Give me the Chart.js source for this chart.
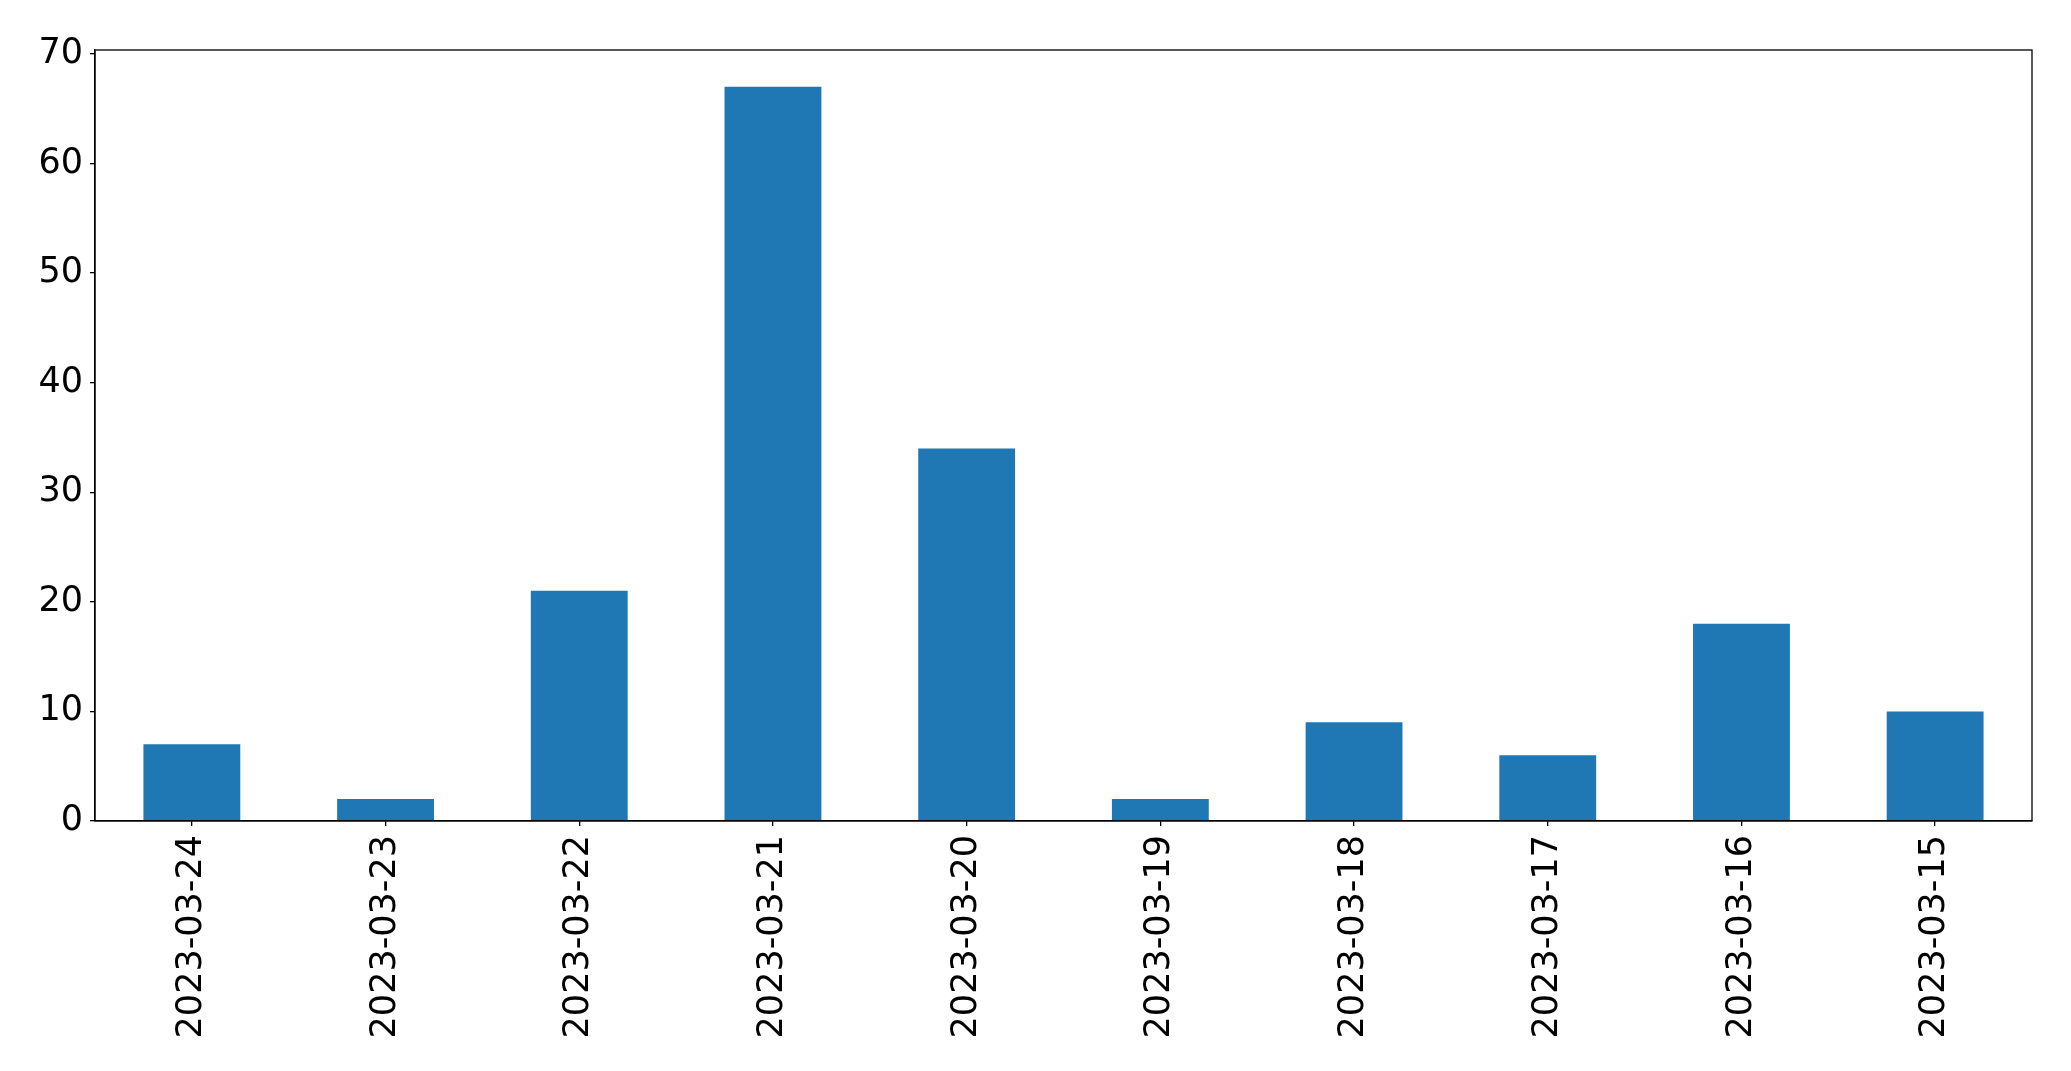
<!DOCTYPE html>
<html>
<head>
<meta charset="utf-8">
<script src="https://cdn.jsdelivr.net/npm/chart.js@4/dist/chart.umd.min.js"></script>
<style>
  html, body { margin: 0; padding: 0; background: white; }
  #wrap { width: 2071px; height: 1071px; }
</style>
</head>
<body>
<div id="wrap"><canvas id="barChart" width="2071" height="1071"></canvas></div>
<script>
// données
const dates = ['2023-03-24', '2023-03-23', '2023-03-22', '2023-03-21', '2023-03-20',
               '2023-03-19', '2023-03-18', '2023-03-17', '2023-03-16', '2023-03-15'];
const counts = [7, 2, 21, 67, 34, 2, 9, 6, 18, 10];
const yMax = 70.35;
const yStep = 10;

// cadre complet autour de la zone du graphique (comme matplotlib)
const frameBox = {
    id: 'frameBox',
    afterDraw(chart) {
        const { ctx, chartArea } = chart;
        ctx.save();
        ctx.strokeStyle = 'black';
        ctx.lineWidth = 1.3;
        ctx.strokeRect(chartArea.left, chartArea.top, chartArea.right - chartArea.left, chartArea.bottom - chartArea.top);
        ctx.restore();
    }
};

const ctx = document.getElementById('barChart').getContext('2d');
new Chart(ctx, {
    type: 'bar',
    data: {
        labels: dates,
        datasets: [{
            data: counts,
            backgroundColor: '#1f77b4',
            borderWidth: 0,
            barPercentage: 0.5,
            categoryPercentage: 1.0
        }]
    },
    options: {
        responsive: false,
        animation: false,
        devicePixelRatio: 1,
        layout: {
            padding: { left: 0, right: 39, top: 50, bottom: 0 }
        },
        plugins: {
            legend: { display: false },
            tooltip: { enabled: false }
        },
        scales: {
            x: {
                offset: true,
                grid: {
                    display: true,
                    offset: false,
                    drawOnChartArea: false,
                    drawTicks: true,
                    tickLength: 5,
                    color: 'black',
                    lineWidth: 1.3
                },
                border: { display: true, color: 'black', width: 1.3 },
                ticks: {
                    color: 'black',
                    autoSkip: false,
                    maxRotation: 90,
                    minRotation: 90,
                    padding: 9,
                    font: { family: 'DejaVu Sans', size: 35 }
                },
                afterFit(scale) { scale.height = 250; }
            },
            y: {
                min: 0,
                max: yMax,
                grid: {
                    display: true,
                    drawOnChartArea: false,
                    drawTicks: true,
                    tickLength: 5,
                    color: 'black',
                    lineWidth: 1.3
                },
                border: { display: true, color: 'black', width: 1.3 },
                ticks: {
                    stepSize: yStep,
                    includeBounds: false,
                    color: 'black',
                    padding: 7,
                    font: { family: 'DejaVu Sans', size: 35 }
                },
                afterFit(scale) { scale.width = 95; }
            }
        }
    },
    plugins: [frameBox]
});
</script>
</body>
</html>
